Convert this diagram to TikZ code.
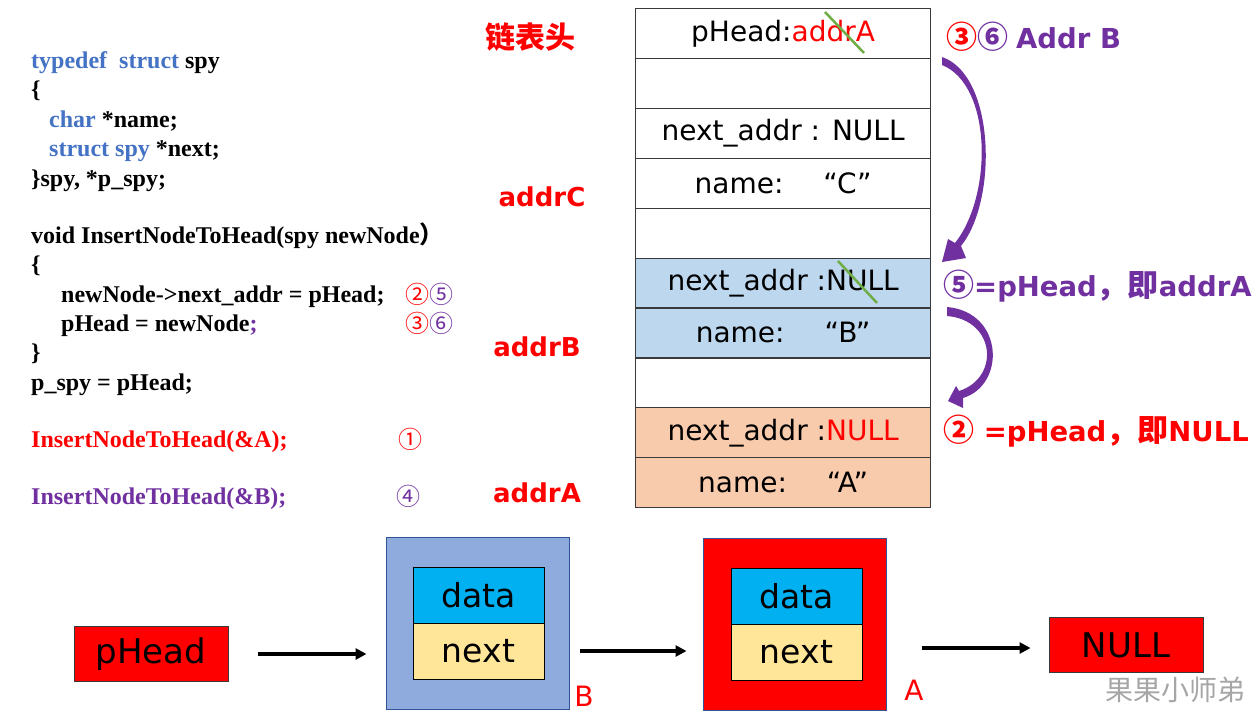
\documentclass[tikz,border=0pt]{standalone}
\usepackage{fontspec}
\setmainfont{Liberation Serif}
\newfontfamily\dv{DejaVu Sans}
\newfontfamily\cjk{Noto Sans CJK SC}
\usetikzlibrary{arrows.meta}
\definecolor{cred}{HTML}{FF0000}
\definecolor{cpurple}{HTML}{7030A0}
\definecolor{cblue}{HTML}{4472C4}
\definecolor{rowblue}{HTML}{BDD7EE}
\definecolor{roworange}{HTML}{F8CBAD}
\definecolor{gridgray}{HTML}{3A3A3A}
\definecolor{cgreen}{HTML}{70AD47}
\definecolor{bouter}{HTML}{8FAADC}
\definecolor{bborder}{HTML}{2F5597}
\definecolor{cdata}{HTML}{00B0F0}
\definecolor{cnext}{HTML}{FFE699}
\definecolor{wmgray}{HTML}{A6A6A6}
\newcommand{\fsz}[1]{\fontsize{#1}{#1}\selectfont}
\begin{document}
\begin{tikzpicture}[x=1pt,y=-1pt,
  code/.style={anchor=base west,inner sep=0pt,font=\bfseries\fsz{24}},
  codenum/.style={anchor=base west,inner sep=0pt,font=\cjk\fsz{24}},
  cell/.style={draw=gridgray,line width=1.2pt,minimum width=295pt,minimum height=49.9pt,anchor=north west,inner sep=0pt,font=\dv\fsz{28}},
  addrlbl/.style={inner sep=0pt,text=cred,font=\dv\bfseries\fsz{26}},
  ann/.style={anchor=west,inner sep=0pt,font=\dv\bfseries\fsz{27.5}},
  strike/.style={draw=cgreen,line width=2.5pt},
  curvearrow/.style={fill=cpurple},
  redbox/.style={fill=cred,draw=gridgray,line width=1pt,minimum width=154pt,minimum height=55pt,inner sep=0pt,font=\dv\fsz{34}},
  outerbox/.style={draw=bborder,line width=1pt,minimum width=183pt,minimum height=172pt,inner sep=0pt},
  fieldbox/.style={draw=black,line width=1pt,minimum width=131pt,minimum height=56pt,inner sep=0pt,font=\dv\fsz{33}},
  link/.style={line width=3.5pt,-{Triangle[length=11pt,width=11pt]}},
  nodelbl/.style={inner sep=0pt,text=cred,font=\dv\fsz{28}},
  wm/.style={inner sep=0pt,text=wmgray,font=\cjk\fsz{28}}
]
\useasboundingbox (0,0) rectangle (1257,712);

% ---- code ----
\node[code] (c1) at (31,68) {\textcolor{cblue}{typedef\ \ struct} spy};
\node[code] (c2) at (31,97) {\{};
\node[code] (c3) at (49,127) {\textcolor{cblue}{char} *name;};
\node[code] (c4) at (49,156) {\textcolor{cblue}{struct spy} *next;};
\node[code] (c5) at (31,186) {\}spy, *p\_spy;};
\node[code] (c6) at (31,243) {void InsertNodeToHead(spy newNode{\cjk ）}};
\node[code] (c7) at (31,272) {\{};
\node[code] (c8) at (61,302) {newNode->next\_addr = pHead;};
\node[code] (c9) at (61,331) {pHead = newNode\textcolor{cpurple}{;}};
\node[code] (c10) at (31,360) {\}};
\node[code] (c11) at (31,390) {p\_spy = pHead;};
\node[code,text=cred] (c12) at (31,447) {InsertNodeToHead(\&A);};
\node[code,text=cpurple] (c13) at (31,504) {InsertNodeToHead(\&B);};

\node[codenum] (n25) at (405,303) {\textcolor{cred}{②}\textcolor{cpurple}{⑤}};
\node[codenum] (n36c) at (405,332) {\textcolor{cred}{③}\textcolor{cpurple}{⑥}};
\node[codenum,text=cred] (n1) at (398,448) {①};
\node[codenum,text=cpurple] (n4) at (396,505) {④};

% ---- labels ----
\node[inner sep=0pt,text=cred,font=\cjk\bfseries\fsz{30}] (title) at (530,37) {链表头};
\node[addrlbl] (lc) at (542,197) {addrC};
\node[addrlbl] (lb) at (537,347) {addrB};
\node[addrlbl] (la) at (537,493) {addrA};

% ---- memory table ----
\node[cell] (r1) at (635,8) {pHead:\textcolor{cred}{addrA}};
\node[cell] (r2) at (635,57.9) {};
\node[cell] (r3) at (635,107.8) {next\_addr : NULL};
\node[cell] (r4) at (635,157.7) {name:\hspace{40pt}“C”};
\node[cell] (r5) at (635,207.6) {};
\node[cell,fill=rowblue] (r6) at (635,257.5) {next\_addr :NULL};
\node[cell,fill=rowblue] (r7) at (635,307.4) {name:\hspace{40pt}“B”};
\node[cell] (r8) at (635,357.3) {};
\node[cell,fill=roworange] (r9) at (635,407.2) {next\_addr :\textcolor{cred}{NULL}};
\node[cell,fill=roworange] (r10) at (635,457.1) {name:\hspace{40pt}“A”};

\draw[strike] (825,12) -- (864,53);
\draw[strike] (838,261) -- (877,303);

% ---- annotations ----
\node[ann,text=cpurple] (a36) at (946,37) {{\cjk\fsz{31}\textcolor{cred}{③}⑥}\hspace{8pt}Addr B};
\node[ann,text=cpurple] (a5) at (943,286) {{\cjk\fsz{31}⑤}=pHead{\cjk\fsz{31}，即}addrA};
\node[ann,text=cred] (a2) at (943,431) {{\cjk\fsz{31}②} =pHead{\cjk\fsz{31}，即}NULL};

% ---- curved arrows ----
\fill[curvearrow] (942,57) .. controls (995,75) and (998,200) .. (961,246)
  -- (966,258) -- (942,262) -- (948,239) -- (955,243)
  .. controls (993,195) and (992,85) .. (942,65) -- cycle;
\fill[curvearrow] (947,307) .. controls (1004,312) and (1006,385) .. (963,398)
  -- (963,408) -- (948,401) -- (956,386) -- (959,391)
  .. controls (1000,378) and (996,320) .. (947,316) -- cycle;

% ---- linked list ----
\node[redbox] (ph) at (151,654) {pHead};
\node[outerbox,fill=bouter] (bB) at (477.5,623) {};
\node[fieldbox,fill=cdata] (bBd) at (478.5,595) {data};
\node[fieldbox,fill=cnext] (bBn) at (478.5,651) {next};
\node[nodelbl] (lB) at (584,696) {B};
\node[outerbox,fill=cred] (bA) at (794.5,624) {};
\node[fieldbox,fill=cdata] (bAd) at (796.5,596) {data};
\node[fieldbox,fill=cnext] (bAn) at (796.5,652) {next};
\node[nodelbl] (lA) at (914,690) {A};
\node[redbox] (nl) at (1126,645) {NULL};
\node[wm] (wm) at (1175,690) {果果小师弟};

\draw[link,shorten <=29pt,shorten >=19pt] (ph.east) -- (ph.east -| bB.west);
\draw[link,shorten <=10pt,shorten >=16pt] (bBn.east -| bB.east) -- (bBn.east -| bA.west);
\draw[link,shorten <=35pt,shorten >=18pt] ([yshift=-3pt]nl.west -| bA.east) -- ([yshift=-3pt]nl.west);
\end{tikzpicture}
\end{document}
